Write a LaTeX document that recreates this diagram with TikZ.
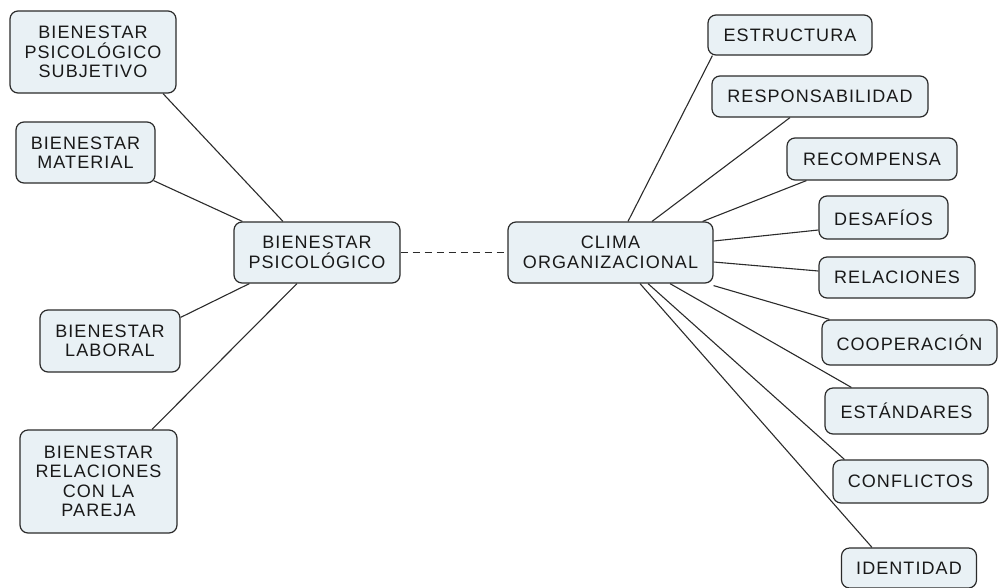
\documentclass[tikz,border=0pt]{standalone}
\usepackage{fontspec}
\newfontfamily\mapfont{Liberation Sans}[LetterSpace=6]
\definecolor{boxfill}{HTML}{E9F1F5}
\definecolor{edge}{HTML}{2B2B2B}
\tikzset{
    concept/.style={draw=edge, line width=1.2pt, fill=boxfill, rounded corners=8pt,
        align=center, inner sep=2pt, text=black!90,
        font=\mapfont\fontsize{18}{19.5}\selectfont},
    link/.style={draw=edge, line width=1.1pt}
}
\begin{document}
\begin{tikzpicture}[x=1pt, y=-1pt]
            \useasboundingbox (0,0) rectangle (998,587);
            \node[concept, minimum width=166, minimum height=82] (bps) at (93,52) {BIENESTAR\\PSICOLÓGICO\\SUBJETIVO};
            \node[concept, minimum width=139, minimum height=61] (mat) at (85.5,152.5) {BIENESTAR\\MATERIAL};
            \node[concept, minimum width=166, minimum height=61] (bp) at (317,252.5) {BIENESTAR\\PSICOLÓGICO};
            \node[concept, minimum width=140, minimum height=62] (lab) at (110,341) {BIENESTAR\\LABORAL};
            \node[concept, minimum width=157, minimum height=103] (par) at (98.5,481.5) {BIENESTAR\\RELACIONES\\CON LA\\PAREJA};
            \node[concept, minimum width=205, minimum height=61] (clima) at (610.5,252.5) {CLIMA\\ORGANIZACIONAL};
            \node[concept, minimum width=164, minimum height=40] (est) at (790,35) {ESTRUCTURA};
            \node[concept, minimum width=216, minimum height=41] (resp) at (820,96.5) {RESPONSABILIDAD};
            \node[concept, minimum width=170, minimum height=42] (rec) at (872,159) {RECOMPENSA};
            \node[concept, minimum width=129, minimum height=43] (des) at (883.5,217.5) {DESAFÍOS};
            \node[concept, minimum width=156, minimum height=41] (rel) at (897,277.5) {RELACIONES};
            \node[concept, minimum width=175, minimum height=45] (coop) at (909.5,342.5) {COOPERACIÓN};
            \node[concept, minimum width=163, minimum height=46] (stand) at (906.5,411) {ESTÁNDARES};
            \node[concept, minimum width=155, minimum height=43] (conf) at (910.5,481.5) {CONFLICTOS};
            \node[concept, minimum width=135, minimum height=40] (ident) at (909,568) {IDENTIDAD};
            \draw[link] ([xshift=70pt]bps.south) -- ([xshift=-34pt]bp.north);
            \draw[link] ([xshift=-2pt,yshift=3pt]mat.south east) -- ([xshift=9pt]bp.north west);
            \draw[link] ([yshift=-8pt]lab.north east) -- ([xshift=16pt]bp.south west);
            \draw[link] ([xshift=53.5pt]par.north) -- ([xshift=-20pt]bp.south);
            \draw[link, dash pattern=on 7pt off 5pt] (bp.east) -- (clima.west);
            \draw[link] ([xshift=17.5pt]clima.north) -- ([xshift=5pt]est.south west);
            \draw[link] ([xshift=41.5pt]clima.north) -- ([xshift=-30pt]resp.south);
            \draw[link] ([xshift=-11pt]clima.north east) -- ([xshift=20pt]rec.south west);
            \draw[link] ([yshift=11.5pt]clima.east) -- ([yshift=-12.5pt]des.west);
            \draw[link] ([yshift=-9.5pt]clima.east) -- ([yshift=6.5pt]rel.west);
            \draw[link] ([yshift=-2pt]clima.south east) -- ([xshift=8pt]coop.north west);
            \draw[link] ([xshift=59.5pt]clima.south) -- ([xshift=27pt]stand.north west);
            \draw[link] ([xshift=37.5pt]clima.south) -- ([xshift=12pt]conf.north west);
            \draw[link] ([xshift=29.5pt]clima.south) -- ([xshift=-37pt]ident.north);
        \end{tikzpicture}
\end{document}
